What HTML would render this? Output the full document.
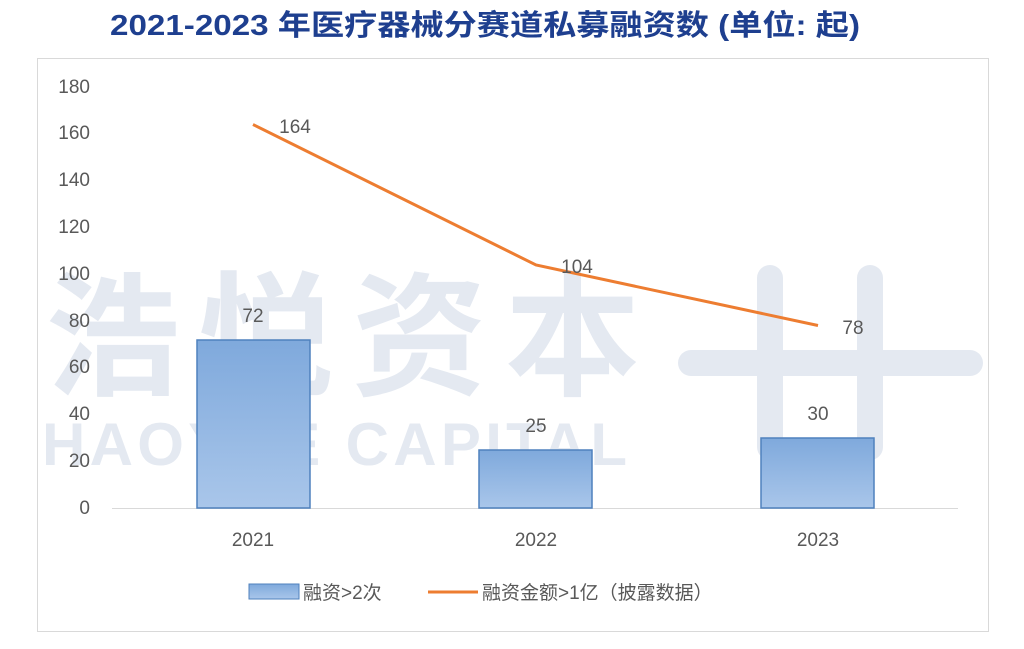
<!DOCTYPE html>
<html><head><meta charset="utf-8"><style>
html,body{margin:0;padding:0;background:#fff;width:1024px;height:649px;overflow:hidden}
</style></head><body>
<svg width="1024" height="649" xmlns="http://www.w3.org/2000/svg" font-family="Liberation Sans, Noto Sans CJK SC, sans-serif">
<defs>
<linearGradient id="g" x1="0" y1="0" x2="0" y2="1">
<stop offset="0" stop-color="#7fa9dc"/><stop offset="1" stop-color="#a9c6ea"/>
</linearGradient>
</defs>
<text x="110" y="35" textLength="750" lengthAdjust="spacingAndGlyphs" font-size="29" font-weight="bold" fill="#1e3f8f" font-family="Liberation Sans, Noto Sans CJK SC, sans-serif">2021-2023 年医疗器械分赛道私募融资数 (单位: 起)</text>
<rect x="37.5" y="58.5" width="951" height="573" fill="#fff" stroke="#d9d9d9"/>
<!-- watermark -->
<g fill="#e4e9f1">
<text x="45" y="385" font-size="135" font-weight="bold" font-family="Noto Sans CJK SC, sans-serif" textLength="595" lengthAdjust="spacing">浩悦资本</text>
<text x="42" y="465" font-size="60" font-weight="bold" textLength="585" lengthAdjust="spacing">HAOYUE CAPITAL</text>
<rect x="678" y="350" width="305" height="26" rx="13"/>
<rect x="757" y="265" width="26" height="195" rx="13"/>
<rect x="857" y="265" width="26" height="195" rx="13"/>
</g>
<g font-size="19" fill="#595959" text-anchor="end">
<text x="90" y="514">0</text><text x="90" y="467">20</text><text x="90" y="420">40</text>
<text x="90" y="373">60</text><text x="90" y="327">80</text><text x="90" y="280">100</text>
<text x="90" y="233">120</text><text x="90" y="186">140</text><text x="90" y="139">160</text>
<text x="90" y="93">180</text>
</g>
<line x1="112" y1="508.5" x2="958" y2="508.5" stroke="#d9d9d9"/>
<g fill="url(#g)" stroke="#4f81bd" stroke-width="1.5">
<rect x="197" y="340" width="113" height="168"/>
<rect x="479" y="450" width="113" height="58"/>
<rect x="761" y="438" width="113" height="70"/>
</g>
<polyline points="253,124.5 536,265 818,325.5" fill="none" stroke="#ed7d31" stroke-width="3"/>
<g font-size="19" fill="#595959" text-anchor="middle">
<text x="253" y="322">72</text><text x="536" y="432">25</text><text x="818" y="420">30</text>
<text x="295" y="133">164</text><text x="577" y="273">104</text><text x="853" y="334">78</text>
<text x="253" y="546">2021</text><text x="536" y="546">2022</text><text x="818" y="546">2023</text>
</g>
<rect x="249" y="584" width="50" height="15" fill="url(#g)" stroke="#4f81bd"/>
<text x="303" y="599" font-size="19" fill="#595959">融资&gt;2次</text>
<line x1="428" y1="592" x2="478" y2="592" stroke="#ed7d31" stroke-width="3"/>
<text x="482" y="599" font-size="19" fill="#595959">融资金额&gt;1亿（披露数据）</text>
</svg>
</body></html>
